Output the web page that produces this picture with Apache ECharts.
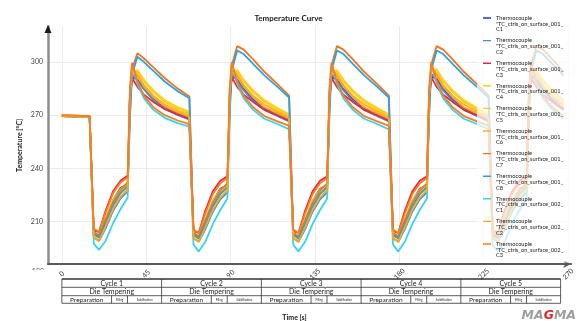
<!DOCTYPE html>
<html>
<head>
<meta charset="utf-8">
<script src="https://cdn.jsdelivr.net/npm/echarts@6/dist/echarts.min.js"></script>
<style>
html, body { margin: 0; padding: 0; background: #fff; }
#chart { width: 577px; height: 321px; }
</style>
</head>
<body>
<div id="chart"></div>
<script>
// sample times [s], shared by every thermocouple
const timeS = [0, 14.8,
  17.0, 19.8, 23.3, 27.3, 31.3, 35.1, 36.3, 37.4, 40.3, 43.8, 48.8, 54.8, 61.8, 68.0,
  70.2, 73.0, 76.5, 80.5, 84.5, 88.3, 89.5, 90.6, 93.5, 97.0, 102.0, 108.0, 115.0, 121.2,
  123.4, 126.2, 129.7, 133.7, 137.7, 141.5, 142.7, 143.8, 146.7, 150.2, 155.2, 161.2, 168.2, 174.4,
  176.6, 179.4, 182.9, 186.9, 190.9, 194.7, 195.9, 197.0, 199.9, 203.4, 208.4, 214.4, 221.4, 227.6,
  229.8, 232.6, 236.1, 240.1, 244.1, 247.9, 249.1, 250.2, 253.1, 256.6, 261.6, 267.6];

// temperatures [°C]
const tc001C1 = [269.5, 269,
  203.5, 202, 211, 222, 229, 231, 279, 291.5, 290, 285.5, 279.5, 274.5, 271, 268.5,
  203, 201.5, 210.5, 221.5, 228.5, 230.5, 279, 292, 290, 285, 279, 274, 270, 267.5,
  202.5, 201, 210.5, 221.5, 228.5, 230.5, 279, 291.5, 290, 285, 279, 274, 270, 267.5,
  203, 201.5, 210.5, 221.5, 228.5, 230.5, 279.5, 292, 290.5, 285, 279, 274, 270, 267.5,
  203, 201.5, 210.5, 221.5, 228.5, 230.5, 279, 292, 290, 285, 279, 274];
const tc001C2 = [269.5, 269,
  201, 199, 206, 216, 223, 227, 280, 293, 289.5, 284.5, 278.5, 273.5, 270, 267.5,
  200.5, 198.5, 205.5, 215.5, 222.5, 226.5, 280, 293.5, 289.5, 284, 278, 273, 269.5, 266.5,
  200.5, 198.5, 205.5, 215.5, 222.5, 226.5, 280, 293, 289.5, 284, 278, 273, 269.5, 266.5,
  200.5, 198.5, 205.5, 215.5, 222.5, 226.5, 280.5, 293.5, 289.5, 284, 278, 273, 269.5, 266.5,
  200.5, 198.5, 205.5, 215.5, 222.5, 226.5, 280, 293, 289.5, 284, 278, 273];
const tc001C3 = [269.5, 269,
  205, 204, 216, 227, 233, 236, 279, 291, 286, 281.5, 277.5, 273.5, 270.5, 268,
  204.5, 203.5, 216, 227, 233, 235.5, 279, 291.5, 286, 281.5, 277.5, 273, 270, 267,
  204.5, 203.5, 216, 227, 233, 235.5, 279, 291, 286, 281.5, 277.5, 273, 270, 267,
  204.5, 203.5, 216, 227, 233, 235.5, 279.5, 291.5, 286, 281.5, 277.5, 273, 270, 267,
  204.5, 203.5, 216, 227, 233, 235.5, 279, 291, 286, 281.5, 277.5, 273];
const tc001C4 = [269.5, 269,
  204, 202.5, 212, 222, 228.5, 231, 280, 294, 295.5, 290, 284, 278.5, 274.5, 272,
  203.5, 202, 211.5, 221.5, 228, 230.5, 280, 294.5, 295.5, 290, 284, 278.5, 274, 270.5,
  203.5, 202, 211.5, 221.5, 228, 230.5, 280, 294, 295.5, 290, 284, 278.5, 274, 270.5,
  203.5, 202, 211.5, 221.5, 228, 230.5, 280.5, 294.5, 296, 290, 284, 278.5, 274, 270.5,
  203.5, 202, 211.5, 221.5, 228, 230.5, 280, 294.5, 295.5, 290, 284, 278.5];
const tc001C5 = [269.5, 269,
  202, 200.5, 209, 219, 226, 229, 281, 295, 294.5, 289, 283, 277.5, 273.5, 271,
  201.5, 200, 208.5, 218.5, 225.5, 228.5, 281, 295.5, 294.5, 289, 283, 277.5, 273, 270,
  201.5, 200, 208.5, 218.5, 225.5, 228.5, 281, 295, 294.5, 289, 283, 277.5, 273, 270,
  201.5, 200, 208.5, 218.5, 225.5, 228.5, 281.5, 295.5, 295, 289, 283, 277.5, 273, 270,
  201.5, 200, 208.5, 218.5, 225.5, 228.5, 281, 295, 294.5, 289, 283, 277.5];
const tc001C6 = [269.5, 269,
  203, 201, 210, 220, 227, 230, 282, 296, 293, 287, 281, 276, 272.5, 270,
  202.5, 200.5, 209.5, 219.5, 226.5, 229.5, 282, 296.5, 293, 287, 281, 276, 272, 269,
  202.5, 200.5, 209.5, 219.5, 226.5, 229.5, 282, 296, 293, 287, 281, 276, 272, 269,
  202.5, 200.5, 209.5, 219.5, 226.5, 229.5, 282.5, 296.5, 293.5, 287, 281, 276, 272, 269,
  202.5, 200.5, 209.5, 219.5, 226.5, 229.5, 282, 296, 293, 287, 281, 276];
const tc001C7 = [270, 269.5,
  204, 202, 211, 221, 228, 232, 270, 296, 305, 302, 297, 291, 285, 280.5,
  203.5, 201.5, 210.5, 220.5, 227.5, 231.5, 272, 298, 309, 307, 301.5, 294.5, 287.5, 281,
  203.5, 201.5, 210.5, 220.5, 227.5, 231.5, 272, 298, 309, 307, 301.5, 294.5, 287.5, 281,
  203.5, 201.5, 210.5, 220.5, 227.5, 231.5, 272, 298.5, 309, 307, 301.5, 294.5, 287.5, 281,
  203.5, 201.5, 210.5, 220.5, 227.5, 231.5, 272, 298, 309, 307, 301.5, 294.5];
const tc001C8 = [269.5, 269,
  203, 201, 209, 219, 226, 230, 268, 293, 303, 300, 295, 289, 283.5, 279.5,
  202.5, 200.5, 208.5, 218.5, 225.5, 229.5, 270, 295, 306.5, 304.5, 299, 292.5, 286, 280,
  202.5, 200.5, 208.5, 218.5, 225.5, 229.5, 270, 295, 306.5, 304.5, 299, 292.5, 286, 280,
  202.5, 200.5, 208.5, 218.5, 225.5, 229.5, 270, 295.5, 306.5, 304.5, 299, 292.5, 286, 280,
  202.5, 200.5, 208.5, 218.5, 225.5, 229.5, 270, 295, 306.5, 304.5, 299, 292.5];
const tc002C1 = [269.5, 269,
  197.5, 194, 199, 209, 217, 223.5, 282, 298, 287.5, 279.5, 273, 268.5, 265.5, 263.5,
  197, 193, 198.5, 208.5, 216.5, 223, 282, 298.5, 287.5, 279.5, 273, 268, 265, 262,
  197, 193, 198.5, 208.5, 216.5, 223, 282, 298, 287.5, 279.5, 273, 268, 265, 262,
  197, 193, 198.5, 208.5, 216.5, 223, 282.5, 298.5, 288, 279.5, 273, 268, 265, 262,
  197, 193, 198.5, 208.5, 216.5, 223, 282, 298, 287.5, 279.5, 273, 268];
const tc002C2 = [269.5, 269,
  201, 199, 207, 217, 224, 228, 281, 295.5, 292, 286, 280, 275, 271.5, 269,
  200.5, 198.5, 206.5, 216.5, 223.5, 227.5, 281, 296, 292, 286, 280, 274.5, 271, 268,
  200.5, 198.5, 206.5, 216.5, 223.5, 227.5, 281, 295.5, 292, 286, 280, 274.5, 271, 268,
  200.5, 198.5, 206.5, 216.5, 223.5, 227.5, 281.5, 296, 292.5, 286, 280, 274.5, 271, 268,
  200.5, 198.5, 206.5, 216.5, 223.5, 227.5, 281, 295.5, 292, 286, 280, 274.5];
const tc002C3 = [270, 269.5,
  206, 204, 215, 226, 232, 235, 285, 299.5, 289, 281, 274.5, 270, 267, 265,
  205.5, 203.5, 214.5, 225.5, 231.5, 234.5, 285, 300, 289, 281, 274.5, 269.5, 266.5, 264,
  205.5, 203.5, 214.5, 225.5, 231.5, 234.5, 285, 299.5, 289, 281, 274.5, 269.5, 266.5, 264,
  205.5, 203.5, 214.5, 225.5, 231.5, 234.5, 285.5, 300, 289.5, 281, 274.5, 269.5, 266.5, 264,
  205.5, 203.5, 214.5, 225.5, 231.5, 234.5, 285, 299.5, 289, 281, 274.5, 269.5];

const seriesNames = [
  'Thermocouple\n"TC_ctrls_on_surface_001_\nC1',
  'Thermocouple\n"TC_ctrls_on_surface_001_\nC2',
  'Thermocouple\n"TC_ctrls_on_surface_001_\nC3',
  'Thermocouple\n"TC_ctrls_on_surface_001_\nC4',
  'Thermocouple\n"TC_ctrls_on_surface_001_\nC5',
  'Thermocouple\n"TC_ctrls_on_surface_001_\nC6',
  'Thermocouple\n"TC_ctrls_on_surface_001_\nC7',
  'Thermocouple\n"TC_ctrls_on_surface_001_\nC8',
  'Thermocouple\n"TC_ctrls_on_surface_002_\nC1',
  'Thermocouple\n"TC_ctrls_on_surface_002_\nC2',
  'Thermocouple\n"TC_ctrls_on_surface_002_\nC3'
];
const seriesValues = [tc001C1, tc001C2, tc001C3, tc001C4, tc001C5, tc001C6, tc001C7, tc001C8, tc002C1, tc002C2, tc002C3];
const seriesColors = ['#2436e8', '#3d8ee6', '#e8283e', '#ffd400', '#ffc933', '#ffb31a', '#f57418', '#29a3e6', '#36d3f2', '#ffa616', '#ff7a1a'];

const xTicks = [0, 45, 90, 135, 180, 225, 270];
const yTicks = [210, 240, 270, 300];

// process table below the time axis
const cycleLabels = ['Cycle 1', 'Cycle 2', 'Cycle 3', 'Cycle 4', 'Cycle 5'];
const cycleStarts = [0, 53.2, 106.4, 159.6, 212.8];
const cycleLength = 53.2;
const phaseLabels = ['Preparation', 'Filling', 'Solidification'];
const phaseEdges = [0, 26.5, 35, 53.2];

const font = 'Lato, "Open Sans", sans-serif';
const chart = echarts.init(document.getElementById('chart'));

const series = seriesValues.map((vals, i) => ({
  name: seriesNames[i],
  type: 'line',
  data: timeS.map((t, j) => [t, vals[j]]),
  symbol: 'none',
  lineStyle: { width: 1.8, color: seriesColors[i] },
  itemStyle: { color: seriesColors[i] },
  emphasis: { disabled: true }
}));

chart.setOption({
  animation: false,
  title: {
    text: 'Temperature Curve',
    left: 'center',
    top: 9,
    textStyle: { fontSize: 8, fontWeight: 'bold', color: '#1a1a1a', fontFamily: font }
  },
  grid: { left: 48, right: 2, top: 26.6, bottom: 57 },
  legend: {
    orient: 'vertical',
    left: 477,
    top: 11,
    padding: [4, 10, 4, 6],
    itemGap: 5,
    itemWidth: 8,
    itemHeight: 17.4,
    icon: 'path://M0,2.2L8,2.2L8,3.6L0,3.6Z M0,0L0.01,0 M0,17.4L0.01,17.4',
    backgroundColor: 'rgba(255,255,255,0.72)',
    itemStyle: { borderWidth: 0 },
    textStyle: { fontSize: 5.7, lineHeight: 5.8, color: '#222', fontFamily: font },
    data: seriesNames
  },
  xAxis: {
    type: 'value',
    min: -7.4,
    max: 271.6,
    axisLine: { show: true, lineStyle: { color: '#5a5a5a', width: 2 }, symbol: ['none', 'arrow'], symbolSize: [6, 8] },
    axisTick: { show: false, customValues: xTicks },
    axisLabel: { customValues: xTicks, rotate: 45, align: 'center', verticalAlign: 'middle', margin: 10, fontSize: 7, color: '#333', fontFamily: font },
    splitLine: { show: true, lineStyle: { color: '#ebebeb', width: 1 } }
  },
  yAxis: {
    type: 'value',
    min: 186,
    max: 320,
    name: 'Temperature [°C]',
    nameLocation: 'middle',
    nameGap: 25,
    nameMoveOverlap: false,
    nameRotate: 90,
    nameTextStyle: { fontSize: 7, fontWeight: 'bold', color: '#222', fontFamily: font },
    axisLine: { show: true, onZero: false, lineStyle: { color: '#8c8c8c', width: 2.5 } },
    axisTick: { show: false, customValues: yTicks },
    axisLabel: { customValues: yTicks, fontSize: 7, color: '#444', margin: 5, fontFamily: font },
    splitLine: { show: true, lineStyle: { color: '#ebebeb', width: 1 } }
  },
  series: series
});

// table, axis decorations and logo
const px = t => chart.convertToPixel({ xAxisIndex: 0 }, t);
const rowY = [279, 287.3, 295.7, 303.3];
const x0 = px(cycleStarts[0]);
const xEnd = px(cycleStarts[cycleStarts.length - 1] + cycleLength);
const els = [];

// y axis arrow
els.push({ type: 'polygon', shape: { points: [[44.5, 33], [48, 25], [51.5, 33]] }, style: { fill: '#1a1a1a' }, z: 50 });
// cut 180 label
els.push({ type: 'text', x: 44, y: 271.5, style: { text: '180', fontSize: 7, fill: '#444', textAlign: 'right', textVerticalAlign: 'middle', fontFamily: font }, z: 50 });
els.push({ type: 'rect', shape: { x: 20, y: 269.8, width: 27, height: 8 }, style: { fill: '#fff' }, z: 51 });

rowY.forEach((y, i) => {
  els.push({ type: 'line', shape: { x1: x0, y1: y, x2: xEnd, y2: y }, style: { stroke: '#333', lineWidth: i === 0 ? 1.3 : 0.8 }, z: 60 });
});
cycleStarts.concat([cycleStarts[cycleStarts.length - 1] + cycleLength]).forEach(t => {
  const x = px(t);
  els.push({ type: 'line', shape: { x1: x, y1: rowY[0], x2: x, y2: rowY[3] }, style: { stroke: '#333', lineWidth: 0.8 }, z: 60 });
});
cycleStarts.forEach((cs, i) => {
  const xc = px(cs + cycleLength / 2);
  els.push({ type: 'text', x: xc, y: (rowY[0] + rowY[1]) / 2 + 0.5, style: { text: cycleLabels[i], fontSize: 7, fill: '#222', textAlign: 'center', textVerticalAlign: 'middle', fontFamily: font }, z: 61 });
  els.push({ type: 'text', x: xc, y: (rowY[1] + rowY[2]) / 2 + 0.5, style: { text: 'Die Tempering', fontSize: 7, fill: '#222', textAlign: 'center', textVerticalAlign: 'middle', fontFamily: font }, z: 61 });
  for (let p = 0; p < phaseLabels.length; p++) {
    if (p > 0) {
      const xd = px(cs + phaseEdges[p]);
      els.push({ type: 'line', shape: { x1: xd, y1: rowY[2], x2: xd, y2: rowY[3] }, style: { stroke: '#333', lineWidth: 0.8 }, z: 60 });
    }
    const xm = px(cs + (phaseEdges[p] + phaseEdges[p + 1]) / 2);
    els.push({ type: 'text', x: xm, y: (rowY[2] + rowY[3]) / 2 + 0.5, style: { text: phaseLabels[p], fontSize: p === 0 ? 6.5 : 2.8, fill: '#222', textAlign: 'center', textVerticalAlign: 'middle', fontFamily: font }, z: 61 });
  }
});

els.push({ type: 'text', x: 294.5, y: 317.5, style: { text: 'Time [s]', fontSize: 7, fontWeight: 'bold', fill: '#222', textAlign: 'center', textVerticalAlign: 'middle', fontFamily: font }, z: 61 });

els.push({
  type: 'text', x: 576, y: 316,
  style: {
    text: '{a|MA}{g|G}{a|MA}',
    textAlign: 'right', textVerticalAlign: 'middle',
    rich: {
      a: { fill: '#9e9e9e', fontSize: 12.5, fontWeight: 900, fontStyle: 'italic', fontFamily: '"DejaVu Sans"' },
      g: { fill: '#e3262b', fontSize: 12.5, fontWeight: 900, fontStyle: 'italic', fontFamily: '"DejaVu Sans"' }
    }
  },
  z: 61
});

chart.setOption({ graphic: els });
</script>
</body>
</html>
